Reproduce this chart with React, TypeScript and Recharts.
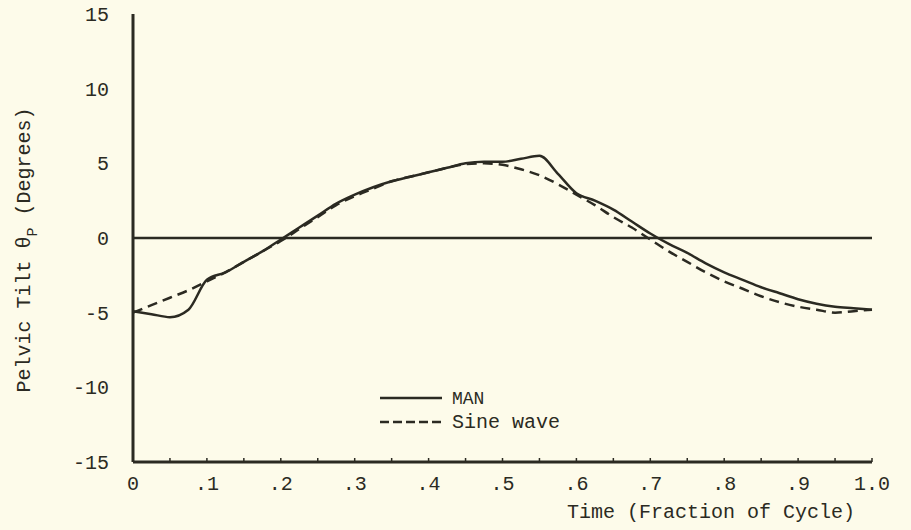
import { LineChart, Line, XAxis, YAxis, ReferenceLine, Label } from 'recharts';

// Temps (fraction du cycle) et inclinaison pelvienne en degrés
const TIME = [
  0, 0.025, 0.05, 0.075, 0.1, 0.125, 0.15, 0.175, 0.2, 0.225,
  0.25, 0.275, 0.3, 0.325, 0.35, 0.375, 0.4, 0.425, 0.45, 0.475,
  0.5, 0.525, 0.55, 0.575, 0.6, 0.625, 0.65, 0.675, 0.7, 0.725,
  0.75, 0.775, 0.8, 0.825, 0.85, 0.875, 0.9, 0.925, 0.95, 0.975, 1.0,
];
const MAN = [
  -4.9, -5.1, -5.3, -4.8, -2.8, -2.3, -1.6, -0.9, -0.1, 0.7,
  1.5, 2.3, 2.9, 3.4, 3.8, 4.1, 4.4, 4.7, 5.0, 5.1,
  5.1, 5.3, 5.5, 4.3, 3.0, 2.5, 1.9, 1.1, 0.3, -0.4,
  -1.0, -1.7, -2.3, -2.8, -3.3, -3.7, -4.1, -4.4, -4.6, -4.7, -4.8,
];
const SINE = [
  -5.0, -4.5, -4.0, -3.5, -2.9, -2.3, -1.6, -0.9, -0.2, 0.6,
  1.4, 2.2, 2.8, 3.3, 3.8, 4.1, 4.4, 4.7, 4.95, 5.0,
  4.9, 4.6, 4.2, 3.6, 2.9, 2.2, 1.4, 0.7, -0.1, -0.9,
  -1.6, -2.3, -2.9, -3.4, -3.9, -4.3, -4.6, -4.8, -5.0, -4.9, -4.8,
];

const X_TICKS = [
  0, 0.05, 0.1, 0.15, 0.2, 0.25, 0.3, 0.35, 0.4, 0.45, 0.5,
  0.55, 0.6, 0.65, 0.7, 0.75, 0.8, 0.85, 0.9, 0.95, 1.0,
];
const X_LABELS = ['0', '.1', '.2', '.3', '.4', '.5', '.6', '.7', '.8', '.9', '1.0'];
const Y_TICKS = [-15, -10, -5, 0, 5, 10, 15];

const INK = '#2b2a22';
const PAPER = '#fdfbea';
const FONT = '"Liberation Mono", "DejaVu Sans Mono", monospace';

const data = TIME.map((t, i) => ({ t, man: MAN[i], sine: SINE[i] }));

// Légende dessinée à la main, posée par-dessus le graphique
function LegendBox() {
  return (
    <svg width={200} height={56} style={{ position: 'absolute', left: 380, top: 386, overflow: 'visible' }}>
      <line x1={0} y1={12} x2={62} y2={12} stroke={INK} strokeWidth={2.5} />
      <text x={72} y={18} fontFamily={FONT} fontSize={18} fill={INK}>MAN</text>
      <line x1={0} y1={36} x2={62} y2={36} stroke={INK} strokeWidth={2.5} strokeDasharray="9 4" />
      <text x={72} y={42} fontFamily={FONT} fontSize={20} fill={INK}>Sine wave</text>
    </svg>
  );
}

export default function App() {
  return (
    <div style={{ position: 'fixed', left: 0, top: 0, width: 911, height: 530, background: PAPER }}>
      <LineChart width={911} height={530} data={data} margin={{ top: 14, right: 39, bottom: 18, left: 73 }}>
        <XAxis
          dataKey="t"
          type="number"
          domain={[0, 1]}
          ticks={X_TICKS}
          interval={0}
          tickFormatter={(v: number, i: number) => (i % 2 === 0 ? X_LABELS[i / 2] : '')}
          axisLine={{ stroke: INK, strokeWidth: 3 }}
          tickLine={{ stroke: INK, strokeWidth: 1.5 }}
          tickSize={-4}
          tickMargin={18}
          height={50}
          tick={{ fill: INK, fontFamily: FONT, fontSize: 20 }}
        >
          <Label
            content={({ viewBox }: any) => (
              <text
                x={viewBox.x + viewBox.width - 17}
                y={viewBox.y + 56}
                textAnchor="end"
                fontFamily={FONT}
                fontSize={20}
                fill={INK}
              >
                Time (Fraction of Cycle)
              </text>
            )}
          />
        </XAxis>
        <YAxis
          type="number"
          domain={[-15, 15]}
          ticks={Y_TICKS}
          interval={0}
          width={60}
          axisLine={{ stroke: INK, strokeWidth: 3 }}
          tickLine={false}
          tickMargin={18}
          tick={{ fill: INK, fontFamily: FONT, fontSize: 20 }}
        >
          <Label
            content={() => (
              <text
                transform="translate(30, 250) rotate(-90)"
                textAnchor="middle"
                fontFamily={FONT}
                fontSize={20}
                fill={INK}
              >
                Pelvic Tilt θ<tspan dy={7} fontSize={15}>P</tspan>
                <tspan dy={-7}> (Degrees)</tspan>
              </text>
            )}
          />
        </YAxis>
        <ReferenceLine y={0} stroke={INK} strokeWidth={2.5} />
        <Line
          dataKey="man"
          type="monotone"
          stroke={INK}
          strokeWidth={2.5}
          dot={false}
          isAnimationActive={false}
        />
        <Line
          dataKey="sine"
          type="monotone"
          stroke={INK}
          strokeWidth={2.5}
          strokeDasharray="10 6"
          dot={false}
          isAnimationActive={false}
        />
      </LineChart>
      <LegendBox />
    </div>
  );
}
